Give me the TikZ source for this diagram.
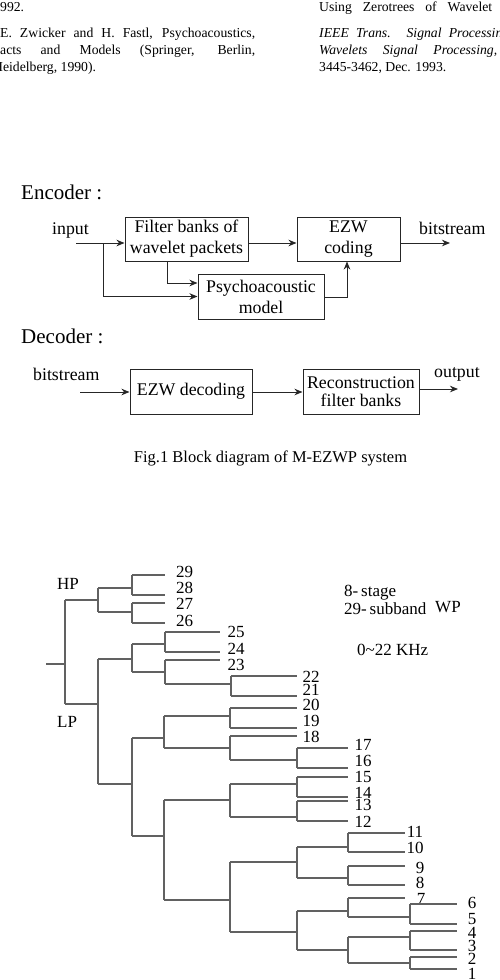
\documentclass[tikz,border=0pt]{standalone}
\usepackage{fontspec}
\setmainfont{Liberation Serif}
\usetikzlibrary{arrows.meta,calc}
\begin{document}
\begin{tikzpicture}[x=1pt,y=-1pt,
  box/.style={draw=black!85,line width=1pt,rectangle,inner sep=0pt,align=center,font=\fontsize{17.8}{21}\selectfont},
  arr/.style={draw=black!85,line width=1pt,-{Stealth[length=8pt,width=6.5pt,inset=2.5pt]}},
  tl/.style={draw=black!62,line width=1.2pt},
  lab/.style={font=\fontsize{17}{20}\selectfont,inner sep=0pt},
  txt/.style={font=\fontsize{17.8}{21}\selectfont,inner sep=0pt,anchor=base west},
  head/.style={font=\fontsize{21}{24}\selectfont,inner sep=0pt,anchor=base west},
  refl/.style={font=\fontsize{13.7}{17}\selectfont,inner sep=0pt,anchor=base west}]
\useasboundingbox (0,0) rectangle (499,980);
\fill[white] (0,0) rectangle (499,980);

% ---------- reference text at top ----------
\node[refl] (r1) at (0,11) {992.};
\node[refl] (r2) at (0,37) {\makebox[255pt][s]{E. Zwicker and H. Fastl, Psychoacoustics,}};
\node[refl] (r3) at (0,54) {\makebox[255pt][s]{acts and Models (Springer, Berlin,}};
\node[refl] (r4) at (-7,71) {Heidelberg, 1990).};
\node[refl] (r5) at (319,11) {\makebox[173pt][s]{Using Zerotrees of Wavelet}};
\node[refl] (r6) at (319,37) {\makebox[190pt][s]{\itshape IEEE Trans. Signal Processing}};
\node[refl] (r7) at (319,54) {\makebox[178pt][s]{\itshape Wavelets Signal Processing,}};
\node[refl] (r8) at (319,71) {3445-3462, Dec. 1993.};

% ---------- encoder ----------
\node[head] (enc) at (21,199) {Encoder :};
\node[txt] (inp) at (52,234) {input};
\node[txt] (bso) at (419,234) {bitstream};
\node[box, minimum width=123pt, minimum height=44pt] (fb) at (186.5,239) {Filter banks of\\wavelet packets};
\node[box, minimum width=103pt, minimum height=44pt] (ezw) at (348.5,239) {EZW\\coding};
\node[box, minimum width=126pt, minimum height=45pt] (psy) at (261,296.5) {Psychoacoustic\\model};
\coordinate (inS) at (76,243);
\coordinate (br) at (103,243);
\coordinate (outE) at (450,243);
\draw[arr] (inS) -- (inS -| fb.west);
\draw[arr] (br) |- (psy.west);
\draw[arr] ($(fb.south)+(-19.5,0)$) |- ($(psy.west)+(0,-13.5)$);
\draw[arr] ($(fb.east)+(0,4)$) -- ($(ezw.west)+(0,4)$);
\draw[arr] ($(psy.east)+(0,0.5)$) -| ($(ezw.south)+(-1.5,0)$);
\draw[arr] ($(ezw.east)+(0,4)$) -- (outE);

% ---------- decoder ----------
\node[head] (decl) at (21,343) {Decoder :};
\node[txt] (bsi) at (33,380) {bitstream};
\node[txt] (outp) at (434,377) {output};
\node[box, minimum width=122pt, minimum height=45pt] (dec) at (191,391.5) {EZW decoding};
\node[box, minimum width=116pt, minimum height=45pt, font=\fontsize{17.8}{18}\selectfont] (rec) at (361,391.5) {Reconstruction\\filter banks};
\coordinate (dinS) at (80,392);
\coordinate (doutE) at (458,389);
\draw[arr] (dinS) -- (dinS -| dec.west);
\draw[arr] ($(dec.east)+(0,0.5)$) -- ($(rec.west)+(0,0.5)$);
\draw[arr] (rec.east |- doutE) -- (doutE);

\node[font=\fontsize{16.5}{19}\selectfont,inner sep=0pt,anchor=base] (cap) at (270.5,462) {Fig.1 Block diagram of M-EZWP system};

% ---------- wavelet packet tree ----------
\foreach \n/\x/\t/\b in {N1/65/600/704, HP/98/588/612, H1/132/575/595, H2/132/603/623,
  LP/98/659/784, A/132/644/672, A1/165/632/652, A2/165/660/684, A3/231/676/696,
  B/132/738/836, C/164/716/748, D/230/708/728, E/230/736/760, F/297/748/768,
  G/164/800/900, H/230/784/817, I/297/777/797, J/297/801/821,
  K/230/862/932, L/297/847/878, M/348/833/852, N/348/866/885,
  O/297/911/950, P/348/898/917, Q/410/904/924, R/348/937/963,
  S/410/931/950, T/410/957/969}{
  \coordinate (w\n-t) at (\x,\t);
  \coordinate (w\n-b) at (\x,\b);
  \draw[tl] (w\n-t) -- (w\n-b);
}
\coordinate (wroot) at (46,664);
\draw[tl] (wroot) -- (wroot -| wN1-t);
\foreach \p/\c in {N1-t/HP, N1-b/LP, HP-t/H1, HP-b/H2, LP-t/A, LP-b/B, A-t/A1, A-b/A2,
  A2-b/A3, B-t/C, B-b/G, C-t/D, C-b/E, E-b/F, G-t/H, G-b/K, H-t/I, H-b/J,
  K-t/L, K-b/O, L-t/M, L-b/N, O-t/P, O-b/R, P-b/Q, R-t/S, R-b/T}{
  \draw[tl] (w\p) -- (w\p -| w\c-t);
}
\foreach \p/\len/\lbl/\lx/\ly in {H1-t/33/29/184.5/572, H1-b/33/28/184.5/588,
  H2-t/33/27/184.5/604, H2-b/33/26/184.5/621,
  A1-t/55/25/236/632, A1-b/55/24/236/649, A2-t/55/23/236/665,
  A3-t/66/22/311/677, A3-b/66/21/311/690,
  D-t/67/20/311/705, D-b/67/19/311/721, E-t/67/18/311/737,
  F-t/51/17/363/745, F-b/51/16/363/761, I-t/51/15/363/777, I-b/51/14/363/793,
  J-t/51/13/363/805, J-b/51/12/363/822,
  M-t/57/11/415/832, M-b/57/10/415/848, N-t/57/9/420/868, N-b/57/8/420/883,
  P-t/57/7/421/899,
  Q-t/47/6/472/903, Q-b/47/5/472/919, S-t/47/4/472/933, S-b/47/3/472/946,
  T-t/47/2/472/959, T-b/47/1/472/974}{
  \draw[tl] (w\p) -- ++(\len,0) coordinate (leaf\lbl);
  \node[lab] (lab\lbl) at (\lx,\ly) {\lbl};
}
\node[lab,anchor=base west] (hp) at (57,589) {HP};
\node[lab,anchor=base west] (lp) at (57,727) {LP};
\node[lab,anchor=base west] (st) at (344,596) {8-\,stage};
\node[lab,anchor=base west] (sb) at (344,614) {29-\,subband};
\node[lab,anchor=base west] (wp) at (435,612) {WP};
\node[lab,anchor=base west] (fr) at (357,655) {0\char"7E 22 KHz};
\end{tikzpicture}
\end{document}
